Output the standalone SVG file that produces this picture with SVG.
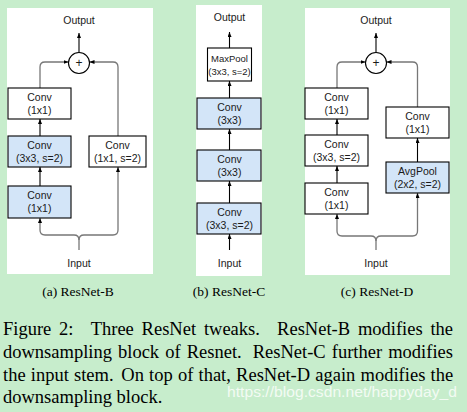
<svg xmlns="http://www.w3.org/2000/svg" width="467" height="412" viewBox="0 0 467 412">
<defs>
<style>
.bg{fill:#c7edcc}
.panel{fill:#fff}
.box{fill:#fff;stroke:#000;stroke-width:1.1}
.blue{fill:#d3e5f8;stroke:#000;stroke-width:1.1}
.t{font-family:"Liberation Sans",Arial,sans-serif;font-size:10.5px;text-anchor:middle;fill:#1a1a1a}
.ts{font-size:9.5px}
.cap{font-family:"Liberation Serif","Times New Roman",serif;font-size:13.5px;text-anchor:middle;fill:#000}
.fig{font-family:"Liberation Serif","Times New Roman",serif;font-size:18.5px;fill:#000}
.arr{fill:none;stroke:#000;stroke-width:1.1;marker-end:url(#ah)}
.gra{fill:none;stroke:#777;stroke-width:1.3;marker-end:url(#ah)}
.circ{fill:#fff;stroke:#000;stroke-width:1.1}
.wm{font-family:"Liberation Sans",Arial,sans-serif;font-size:15.5px;fill:#fff;fill-opacity:0.8}
</style>
<marker id="ah" markerUnits="userSpaceOnUse" markerWidth="5" markerHeight="4" refX="5" refY="2" orient="auto">
<path d="M0,0 L5,2 L0,4 z" fill="#000"/>
</marker>
</defs>
<rect class="bg" x="0" y="0" width="467" height="412"/>
<rect class="panel" x="7" y="8" width="146" height="266"/>
<rect class="panel" x="196" y="5" width="66" height="271"/>
<rect class="panel" x="305" y="8" width="145" height="267"/>

<g id="connectors">
<path class="arr" d="M79 52.5 V33"/>
<path class="gra" d="M40 88 V67 Q40 62 45 62 H68.5"/>
<path class="gra" d="M118 136 V67 Q118 62 113 62 H89.5"/>
<path class="arr" d="M40 136 V119"/>
<path class="arr" d="M40 186 V167"/>
<path class="gra" d="M79 250 V240 Q79 235 74 235 H45 Q40 235 40 230 V218"/>
<path class="gra" d="M79 240 Q79 235 84 235 H113 Q118 235 118 230 V167"/>
<path class="arr" d="M229.5 48 V32"/>
<path class="arr" d="M229.5 98 V81"/>
<path class="arr" d="M229.5 150 V129"/>
<path class="arr" d="M229.5 203 V181"/>
<path class="arr" d="M229.5 250 V234"/>
<path class="arr" d="M376 52.5 V33"/>
<path class="gra" d="M337 88 V67 Q337 62 342 62 H365.5"/>
<path class="gra" d="M417.5 107 V67 Q417.5 62 412.5 62 H386.5"/>
<path class="arr" d="M337 135 V119"/>
<path class="arr" d="M337 183 V166"/>
<path class="arr" d="M417.5 162 V138"/>
<path class="gra" d="M376 250 V241 Q376 236 371 236 H342 Q337 236 337 231 V214"/>
<path class="gra" d="M376 241 Q376 236 381 236 H412.5 Q417.5 236 417.5 231 V193"/>
</g>

<g id="a-output"><text class="t" x="79" y="24">Output</text></g>
<g id="a-add"><circle class="circ" cx="79" cy="63" r="10.5"/><text class="t" x="79" y="67" style="font-size:12px">+</text></g>
<g id="a-conv1"><rect class="box" x="8" y="88" width="63" height="31"/><text class="t" x="39.5" y="100.5">Conv</text><text class="t" x="39.5" y="113.5">(1x1)</text></g>
<g id="a-conv2"><rect class="blue" x="8" y="136" width="63" height="31"/><text class="t" x="39.5" y="148.5">Conv</text><text class="t" x="39.5" y="161.5">(3x3, s=2)</text></g>
<g id="a-conv3"><rect class="blue" x="8" y="186" width="63" height="32"/><text class="t" x="39.5" y="198.5">Conv</text><text class="t" x="39.5" y="211.5">(1x1)</text></g>
<g id="a-conv4"><rect class="box" x="89" y="136" width="57" height="31"/><text class="t" x="117.5" y="148.5">Conv</text><text class="t" x="117.5" y="161.5">(1x1, s=2)</text></g>
<g id="a-input"><text class="t" x="79" y="267">Input</text></g>
<text class="cap" x="78" y="296">(a) ResNet-B</text>

<g id="b-output"><text class="t" x="229.5" y="21">Output</text></g>
<g id="b-maxpool"><rect class="box" x="207.5" y="48" width="44" height="33"/><text class="t ts" x="229.5" y="61.5">MaxPool</text><text class="t ts" x="229.5" y="74.5">(3x3, s=2)</text></g>
<g id="b-conv1"><rect class="blue" x="197" y="98" width="64" height="31"/><text class="t" x="229.5" y="110.5">Conv</text><text class="t" x="229.5" y="123.5">(3x3)</text></g>
<g id="b-conv2"><rect class="blue" x="197" y="150" width="64" height="31"/><text class="t" x="229.5" y="162.5">Conv</text><text class="t" x="229.5" y="175.5">(3x3)</text></g>
<g id="b-conv3"><rect class="blue" x="197" y="203" width="64" height="31"/><text class="t" x="229.5" y="215.5">Conv</text><text class="t" x="229.5" y="228.5">(3x3, s=2)</text></g>
<g id="b-input"><text class="t" x="229.5" y="267">Input</text></g>
<text class="cap" x="229" y="296">(b) ResNet-C</text>

<g id="c-output"><text class="t" x="376" y="24">Output</text></g>
<g id="c-add"><circle class="circ" cx="376" cy="63" r="10.5"/><text class="t" x="376" y="67" style="font-size:12px">+</text></g>
<g id="c-conv1"><rect class="box" x="305" y="88" width="63" height="31"/><text class="t" x="336.5" y="100.5">Conv</text><text class="t" x="336.5" y="113.5">(1x1)</text></g>
<g id="c-conv2"><rect class="box" x="305" y="135" width="63" height="31"/><text class="t" x="336.5" y="147.5">Conv</text><text class="t" x="336.5" y="160.5">(3x3, s=2)</text></g>
<g id="c-conv3"><rect class="box" x="305" y="183" width="63" height="31"/><text class="t" x="336.5" y="195.5">Conv</text><text class="t" x="336.5" y="208.5">(1x1)</text></g>
<g id="c-conv4"><rect class="box" x="386" y="107" width="63" height="31"/><text class="t" x="417.5" y="119.5">Conv</text><text class="t" x="417.5" y="132.5">(1x1)</text></g>
<g id="c-avgpool"><rect class="blue" x="386" y="162" width="63" height="31"/><text class="t" x="417.5" y="174.5">AvgPool</text><text class="t" x="417.5" y="187.5">(2x2, s=2)</text></g>
<g id="c-input"><text class="t" x="376" y="267">Input</text></g>
<text class="cap" x="377" y="296">(c) ResNet-D</text>

<text class="fig" y="335"><tspan x="3">Figure</tspan><tspan x="59.1">2:</tspan><tspan x="90.7">Three</tspan><tspan x="141.6">ResNet</tspan><tspan x="203.9">tweaks.</tspan><tspan x="277.1">ResNet-B</tspan><tspan x="357.9">modifies</tspan><tspan x="430.4">the</tspan></text>
<text class="fig" y="358"><tspan x="3">downsampling</tspan><tspan x="118">block</tspan><tspan x="165.2">of</tspan><tspan x="186.7">Resnet.</tspan><tspan x="252.7">ResNet-C</tspan><tspan x="331.8">further</tspan><tspan x="388.2">modifies</tspan></text>
<text class="fig" y="381"><tspan x="3">the</tspan><tspan x="30.8">input</tspan><tspan x="74">stem.</tspan><tspan x="121.3">On</tspan><tspan x="149.1">top</tspan><tspan x="177.9">of</tspan><tspan x="198.5">that,</tspan><tspan x="236.1">ResNet-D</tspan><tspan x="315.3">again</tspan><tspan x="360.6">modifies</tspan><tspan x="430.5">the</tspan></text>
<text class="fig" x="3" y="403">downsampling block.</text>
<text class="wm" x="227" y="397" textLength="230" lengthAdjust="spacingAndGlyphs">https://blog.csdn.net/happyday_d</text>
</svg>
